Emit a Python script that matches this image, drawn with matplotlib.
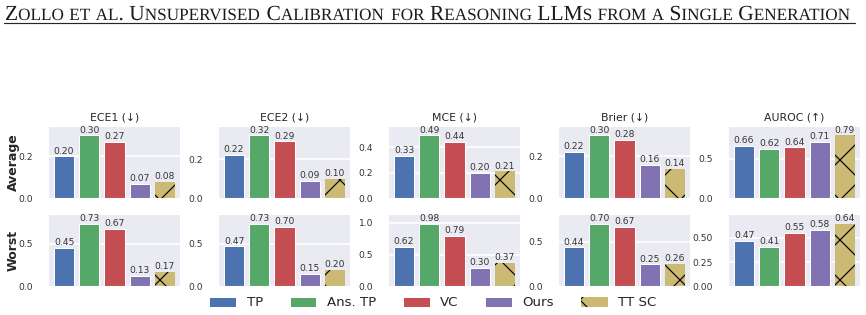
import matplotlib
matplotlib.use("Agg")
import matplotlib.pyplot as plt
import seaborn as sns
from matplotlib import ft2font
from matplotlib.ticker import MaxNLocator
from matplotlib.lines import Line2D
from matplotlib.patches import PathPatch
from matplotlib.textpath import TextPath
from matplotlib.transforms import IdentityTransform
from matplotlib.font_manager import findfont, FontProperties, get_font

header = "Zollo et al. Unsupervised Calibration for Reasoning LLMs from a Single Generation"
metrics = ["ECE1 (↓)", "ECE2 (↓)", "MCE (↓)", "Brier (↓)", "AUROC (↑)"]
methods = ["TP", "Ans. TP", "VC", "Ours", "TT SC"]
row_names = ["Average", "Worst"]

# one list per metric, methods in the order above
average_vals = [
    [0.20, 0.30, 0.27, 0.07, 0.08],
    [0.22, 0.32, 0.29, 0.09, 0.10],
    [0.33, 0.49, 0.44, 0.20, 0.21],
    [0.22, 0.30, 0.28, 0.16, 0.14],
    [0.66, 0.62, 0.64, 0.71, 0.79],
]
worst_vals = [
    [0.45, 0.73, 0.67, 0.13, 0.17],
    [0.47, 0.73, 0.70, 0.15, 0.20],
    [0.62, 0.98, 0.79, 0.30, 0.37],
    [0.44, 0.70, 0.67, 0.25, 0.26],
    [0.47, 0.41, 0.55, 0.58, 0.64],
]
colors = ["#4C72B0", "#55A868", "#C44E52", "#8172B2", "#CCB974"]

sns.set_theme(style="darkgrid")
plt.rcParams['font.family'] = ['DejaVu Sans']
plt.rcParams['hatch.linewidth'] = 0.7
plt.rcParams['hatch.color'] = 'black'

W, H, DPI = 866, 315, 120
fig, axes = plt.subplots(2, 5, figsize=(W / DPI, H / DPI), dpi=DPI)
fig.subplots_adjust(left=48 / W, right=861 / W, bottom=1 - 287 / H, top=1 - 126 / H,
                    wspace=0.278, hspace=0.22)

legend_bars = None
for r, vals in enumerate([average_vals, worst_vals]):
    for c, metric in enumerate(metrics):
        ax = axes[r, c]
        v = vals[c]
        bars = ax.bar(range(len(methods)), v, width=0.8, color=colors,
                      edgecolor='white', linewidth=0.6)
        bars[4].set_hatch('x')
        bars[4].set_edgecolor('black')
        bars[4].set_linewidth(0)
        ax.bar_label(bars, fmt='%.2f', padding=0.5, fontsize=5.5, color='0.2')
        ax.set_ylim(0, max(v) * 1.15)
        ax.yaxis.set_major_locator(MaxNLocator(nbins=3, steps=[1, 2, 2.5, 5, 10]))
        ax.set_xticks([])
        ax.tick_params(axis='y', labelsize=5.5, pad=3, colors='0.2')
        if r == 0:
            ax.set_title(metric, fontsize=6.5, pad=3, color='0.15')
        if c == 0:
            ax.set_ylabel(row_names[r], fontsize=7.5, fontweight='bold')
            ax.yaxis.set_label_coords(-0.21, 0.5)
        if legend_bars is None:
            legend_bars = bars

fig.legend(legend_bars, methods, loc='center', bbox_to_anchor=(0.5, 1 - 303 / H),
           ncol=5, frameon=False, fontsize=8, handlelength=2.0, columnspacing=2.0,
           handletextpad=0.8)

# small caps header, built from glyph paths in pixel units
serif_prop = FontProperties(family='Liberation Serif')
serif_font = get_font(findfont(serif_prop))
try:
    NO_SCALE = ft2font.LoadFlags.NO_SCALE
except AttributeError:
    NO_SCALE = ft2font.LOAD_NO_SCALE
upem = serif_font.units_per_EM


def advance(s, size_px):
    units = sum(serif_font.load_char(ord(ch), flags=NO_SCALE).horiAdvance for ch in s)
    return units / upem * size_px


def header_runs(text, big, small):
    runs = []
    for ch in text:
        size = small if ch.islower() else big
        if runs and runs[-1][1] == size:
            runs[-1][0] += ch.upper()
        else:
            runs.append([ch.upper(), size])
    return runs


def draw_header(big, x0, y0, keep):
    x = x0
    for s, size in header_runs(header, big, big * 0.8):
        if keep and s.strip():
            tp = TextPath((x, y0), s, size=size, prop=serif_prop)
            fig.add_artist(PathPatch(tp, transform=IdentityTransform(),
                                     facecolor='0.1', lw=0))
        x += advance(s, size)
    return x - x0


base = 18
width = draw_header(base, 5, H - 20, keep=False)
draw_header(base * (852 - 5) / width, 5, H - 20, keep=True)
fig.add_artist(Line2D([4 / W, 855 / W], [1 - 23 / H] * 2, color='0.15', lw=0.7))

fig.savefig("out.png", dpi=DPI)
